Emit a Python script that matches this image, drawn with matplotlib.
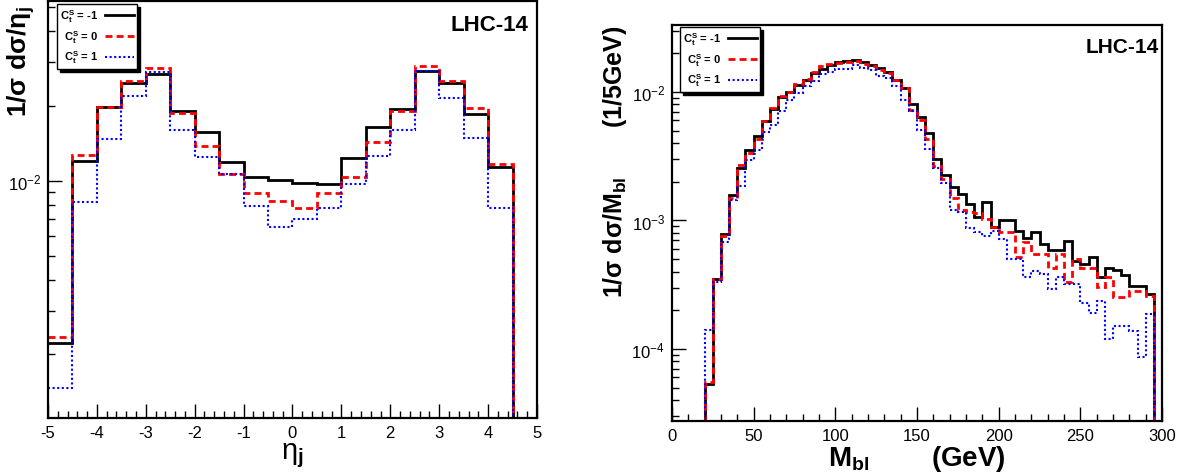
import numpy as np
import matplotlib
matplotlib.use("Agg")
import matplotlib.pyplot as plt
from matplotlib.lines import Line2D
from matplotlib.ticker import MultipleLocator, NullFormatter, LogLocator

plt.rcParams['font.family'] = ['Liberation Sans', 'DejaVu Sans']
plt.rcParams['mathtext.fontset'] = 'custom'
plt.rcParams['mathtext.rm'] = 'Liberation Sans'
plt.rcParams['mathtext.it'] = 'Liberation Sans:italic'
plt.rcParams['mathtext.bf'] = 'Liberation Sans:bold'
plt.rcParams['axes.unicode_minus'] = False

# eta_j distribution, 0.5 wide bins from -5 to 5
eta_edges = np.linspace(-5, 5, 21)
eta_m1 = [0.00222, 0.01203, 0.01977, 0.02475, 0.02700, 0.01905, 0.01569, 0.01196, 0.01038, 0.01006,
          0.00979, 0.00973, 0.01237, 0.01648, 0.01941, 0.02776, 0.02484, 0.01853, 0.01138, 0]
eta_0 = [0.00235, 0.01272, 0.01977, 0.02514, 0.02835, 0.01883, 0.01382, 0.01067, 0.00892, 0.00831,
         0.00779, 0.00895, 0.01041, 0.01439, 0.01910, 0.02896, 0.02514, 0.01959, 0.01170, 0]
eta_p1 = [0.00146, 0.00821, 0.01480, 0.02194, 0.02741, 0.01603, 0.01248, 0.01067, 0.00789, 0.00652,
          0.00700, 0.00779, 0.00970, 0.01265, 0.01603, 0.02776, 0.02162, 0.01484, 0.00777, 0]

# M_bl distribution, 5 GeV bins from 0 to 300 (bins 0-20 and 295-300 empty)
mbl_edges = np.linspace(0, 300, 61)
mbl_m1 = [0, 0, 0, 0,
          5.3e-5, 3.5e-4, 7.8e-4, 1.59e-3, 2.55e-3, 3.51e-3, 4.57e-3, 5.99e-3, 7.36e-3, 9.14e-3,
          1.0e-2, 1.13e-2, 1.23e-2, 1.41e-2, 1.52e-2, 1.61e-2, 1.71e-2, 1.75e-2, 1.77e-2, 1.71e-2,
          1.63e-2, 1.55e-2, 1.42e-2, 1.23e-2, 1.08e-2, 8.05e-3, 6.4e-3, 4.8e-3, 3.02e-3, 2.26e-3,
          1.81e-3, 1.60e-3, 1.35e-3, 1.06e-3, 1.38e-3, 8.9e-4, 1.0e-3, 1.0e-3, 8.3e-4, 7.3e-4,
          8.2e-4, 6.5e-4, 5.9e-4, 5.9e-4, 6.9e-4, 4.8e-4, 4.55e-4, 5.2e-4, 3.6e-4, 4.3e-4,
          4.15e-4, 3.75e-4, 3.1e-4, 3.1e-4, 2.7e-4,
          0]
mbl_0 = [0, 0, 0, 0,
         5.5e-5, 3.5e-4, 7.6e-4, 1.5e-3, 2.71e-3, 3.33e-3, 4.3e-3, 5.96e-3, 7.5e-3, 9.35e-3,
         1.0e-2, 1.16e-2, 1.27e-2, 1.42e-2, 1.59e-2, 1.64e-2, 1.69e-2, 1.71e-2, 1.74e-2, 1.66e-2,
         1.59e-2, 1.49e-2, 1.41e-2, 1.25e-2, 1.07e-2, 7.3e-3, 6.06e-3, 4.3e-3, 2.65e-3, 2.12e-3,
         1.5e-3, 1.2e-3, 1.16e-3, 1.14e-3, 1.03e-3, 8.9e-4, 8.1e-4, 8.1e-4, 5.2e-4, 6.8e-4,
         5.5e-4, 5.5e-4, 4.3e-4, 5.5e-4, 3.3e-4, 5.0e-4, 4.3e-4, 4.3e-4, 3.05e-4, 3.6e-4,
         2.52e-4, 2.52e-4, 2.8e-4, 2.8e-4, 2.6e-4,
         0]
mbl_p1 = [0, 0, 0, 0,
          1.4e-4, 3.3e-4, 6.8e-4, 1.45e-3, 1.86e-3, 2.95e-3, 3.53e-3, 4.91e-3, 5.55e-3, 7.05e-3,
          8.6e-3, 9.8e-3, 1.106e-2, 1.225e-2, 1.38e-2, 1.43e-2, 1.51e-2, 1.51e-2, 1.61e-2, 1.54e-2,
          1.48e-2, 1.34e-2, 1.29e-2, 1.106e-2, 8.7e-3, 7.05e-3, 5.07e-3, 3.6e-3, 2.55e-3, 1.94e-3,
          1.2e-3, 1.16e-3, 8.7e-4, 8.1e-4, 7.6e-4, 8.35e-4, 7.2e-4, 5.0e-4, 5.0e-4, 3.6e-4,
          4.06e-4, 3.83e-4, 2.92e-4, 3.64e-4, 3.23e-4, 3.23e-4, 2.29e-4, 1.91e-4, 2.36e-4, 1.19e-4,
          1.51e-4, 1.51e-4, 1.38e-4, 8.6e-5, 1.86e-4,
          0]

labels = [r'C$_\mathbf{t}^\mathbf{S}$ = -1', r'C$_\mathbf{t}^\mathbf{S}$ = 0', r'C$_\mathbf{t}^\mathbf{S}$ = 1']
styles = [dict(color='black', lw=2.0, ls='-'),
          dict(color='red', lw=2.0, ls=(0, (2.5, 1.5))),
          dict(color='blue', lw=1.5, ls=(0, (1, 1.2)))]


def draw_hist(ax, edges, series):
    for vals, st in zip(series, styles):
        v = np.asarray(vals, dtype=float)
        v = np.where(v > 0, v, 1e-9)  # empty bins go down to the floor
        ax.stairs(v, edges, baseline=None, **st)


def style_axes(ax):
    ax.set_yscale('log')
    for s in ax.spines.values():
        s.set_linewidth(1.6)
    ax.tick_params(which='both', direction='in', top=False, right=False, labelsize=12, width=1.0)
    ax.tick_params(which='major', length=10, pad=5)
    ax.tick_params(which='minor', length=5)
    ax.yaxis.set_minor_locator(LogLocator(base=10, subs=np.arange(2, 10)))
    ax.yaxis.set_minor_formatter(NullFormatter())


def add_legend(ax, anchor):
    handles = [Line2D([], [], **st) for st in styles]
    leg = ax.legend(handles, labels, loc='upper left', bbox_to_anchor=anchor, borderaxespad=0,
                    markerfirst=False, fancybox=False, edgecolor='black', framealpha=1,
                    shadow={'color': 'black', 'alpha': 1}, handlelength=2.6,
                    labelspacing=0.35, borderpad=0.3, handletextpad=0.6,
                    prop={'weight': 'bold', 'size': 8})
    leg.get_frame().set_linewidth(1.0)


fig = plt.figure(figsize=(11.82, 4.77), dpi=100)

# left: eta_j
ax1 = fig.add_axes([0.0406, 0.1216, 0.4137, 0.8742])
style_axes(ax1)
draw_hist(ax1, eta_edges, [eta_m1, eta_0, eta_p1])
ax1.set_xlim(-5, 5)
ax1.set_ylim(1.11e-3, 5.3e-2)
ax1.xaxis.set_major_locator(MultipleLocator(1))
ax1.xaxis.set_minor_locator(MultipleLocator(0.2))
ax1.set_xlabel(r'η$_\mathbf{j}$', fontsize=21, labelpad=0)
ax1.set_ylabel(r'1/σ dσ/η$_\mathbf{j}$', fontsize=19, fontweight='bold', loc='top')
ax1.yaxis.set_label_coords(-0.022, 0.99)
ax1.text(0.982, 0.969, 'LHC-14', transform=ax1.transAxes, ha='right', va='top',
         fontsize=16, fontweight='bold')
add_legend(ax1, (0.018, 0.993))

# right: M_bl
ax2 = fig.add_axes([0.5685, 0.1153, 0.4146, 0.8302])
style_axes(ax2)
draw_hist(ax2, mbl_edges, [mbl_m1, mbl_0, mbl_p1])
ax2.set_xlim(0, 300)
ax2.set_ylim(2.75e-5, 3.32e-2)
ax2.xaxis.set_major_locator(MultipleLocator(50))
ax2.xaxis.set_minor_locator(MultipleLocator(10))
ax2.set_xlabel(r'M$_\mathbf{bl}$        (GeV)', fontsize=20, fontweight='bold', labelpad=0)
ax2.set_ylabel(r'1/σ dσ/M$_\mathbf{bl}$       (1/5GeV)', fontsize=18, fontweight='bold', loc='top')
ax2.yaxis.set_label_coords(-0.088, 1.0)
ax2.text(0.993, 0.97, 'LHC-14', transform=ax2.transAxes, ha='right', va='top',
         fontsize=15, fontweight='bold')
add_legend(ax2, (0.016, 0.995))

fig.savefig('out.png', dpi=100)
